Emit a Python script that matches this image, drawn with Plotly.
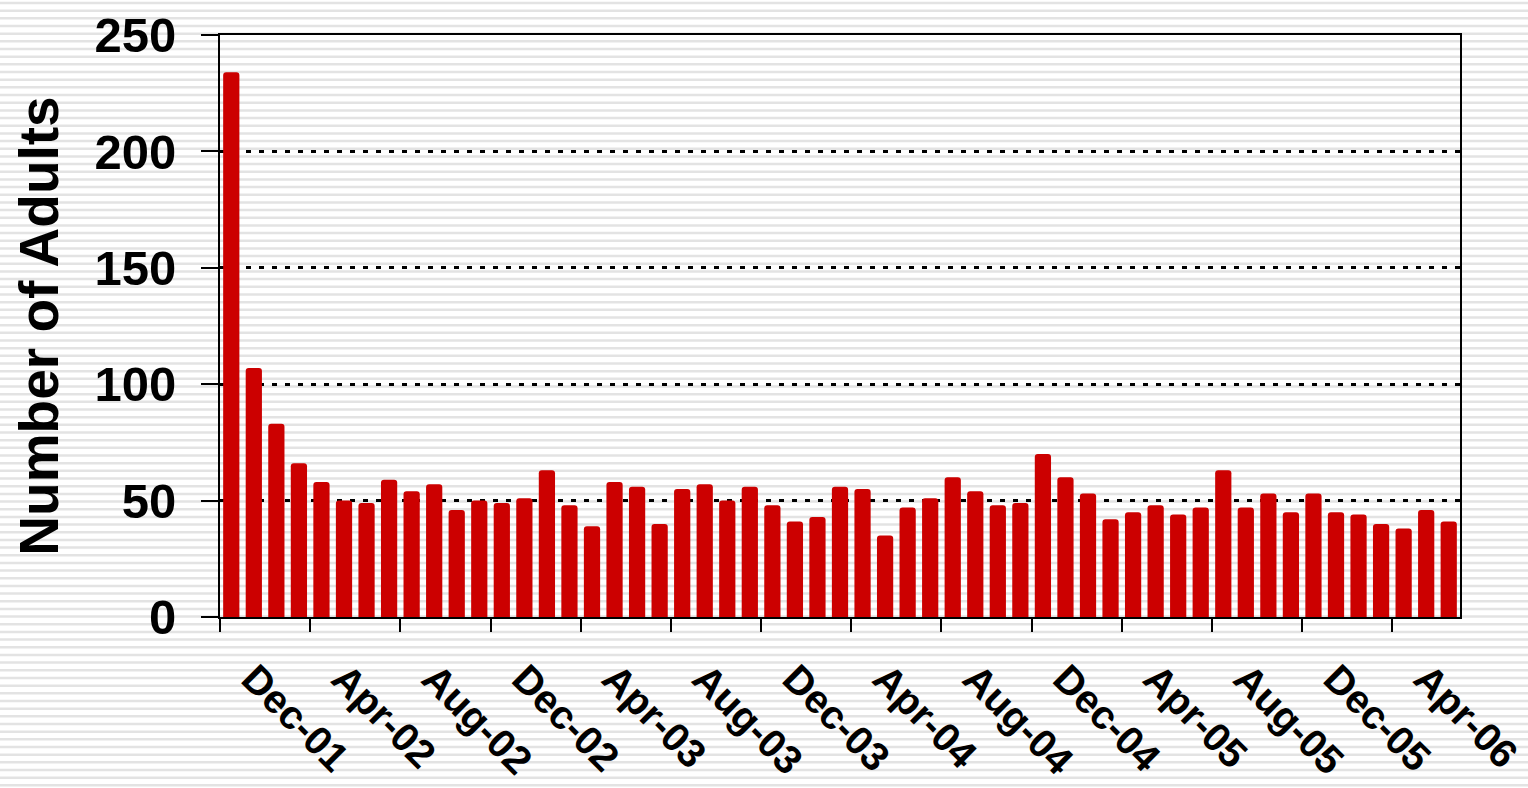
import plotly.graph_objects as go

# monthly counts, Dec-01 .. Jun-06
adults = [234, 107, 83, 66, 58, 50, 49, 59, 54, 57, 46, 50, 49, 51, 63, 48,
          39, 58, 56, 40, 55, 57, 50, 56, 48, 41, 43, 56, 55, 35, 47, 51,
          60, 54, 48, 49, 70, 60, 53, 42, 45, 48, 44, 47, 63, 47, 53, 45,
          53, 45, 44, 40, 38, 46, 41]

tick_labels = ["Dec-01", "Apr-02", "Aug-02", "Dec-02", "Apr-03", "Aug-03",
               "Dec-03", "Apr-04", "Aug-04", "Dec-04", "Apr-05", "Aug-05",
               "Dec-05", "Apr-06"]

x_idx = list(range(len(adults)))
label_pos = x_idx[::4][:len(tick_labels)]
bound_pos = [i - 0.5 for i in x_idx[::4]]

W, H = 1528, 788
L, R, T, B = 220, 68, 35, 171
plot_h = H - T - B
plot_w = W - L - R

fig = go.Figure()
fig.add_trace(go.Bar(
    x=x_idx, y=adults, width=0.72,
    marker=dict(color="#cc0000", line_width=0, cornerradius=3),
))

# striped background, like the source image
stripes = []
k = 0
while True:
    p = 3 + 7.67 * k
    if p > H:
        break
    yp = (H - B - p) / plot_h
    stripes.append(dict(type="line", xref="paper", yref="paper",
                        x0=-L / plot_w, x1=(W - L) / plot_w, y0=yp, y1=yp,
                        line=dict(color="#e3e3e3", width=2.5), layer="below"))
    k += 1

fig.update_layout(
    width=W, height=H,
    margin=dict(l=L, r=R, t=T, b=B, pad=0, autoexpand=False),
    paper_bgcolor="white",
    plot_bgcolor="rgba(0,0,0,0)",
    showlegend=False,
    shapes=stripes,
    font=dict(family="Liberation Sans, Arial, sans-serif", color="black"),
)

fig.update_xaxes(
    range=[-0.5, len(adults) - 0.5],
    tickmode="array", tickvals=label_pos, ticktext=tick_labels,
    ticks="", tickangle=45,
    tickfont=dict(size=40, weight="bold"),
    ticklabelstandoff=20, ticklabelshift=22,
    showline=True, linecolor="black", linewidth=2, mirror=True,
    showgrid=False, zeroline=False, automargin=False,
    minor=dict(tickmode="array", tickvals=bound_pos, ticks="outside",
               ticklen=13, tickwidth=2, tickcolor="black", showgrid=False),
)

fig.update_yaxes(
    range=[0, 250], dtick=50,
    ticks="outside", ticklen=17, tickwidth=2, tickcolor="black",
    tickfont=dict(size=49, weight="bold"),
    ticklabelstandoff=15,
    showline=True, linecolor="black", linewidth=2, mirror=True,
    showgrid=True, gridcolor="black", gridwidth=3, griddash="5px,8px",
    zeroline=False, automargin=False,
    title=dict(text="Number of Adults", font=dict(size=55, weight="bold"),
               standoff=18),
)

fig.write_html("out.html", config={"displayModeBar": False},
               post_script="document.body.style.margin='0';")
